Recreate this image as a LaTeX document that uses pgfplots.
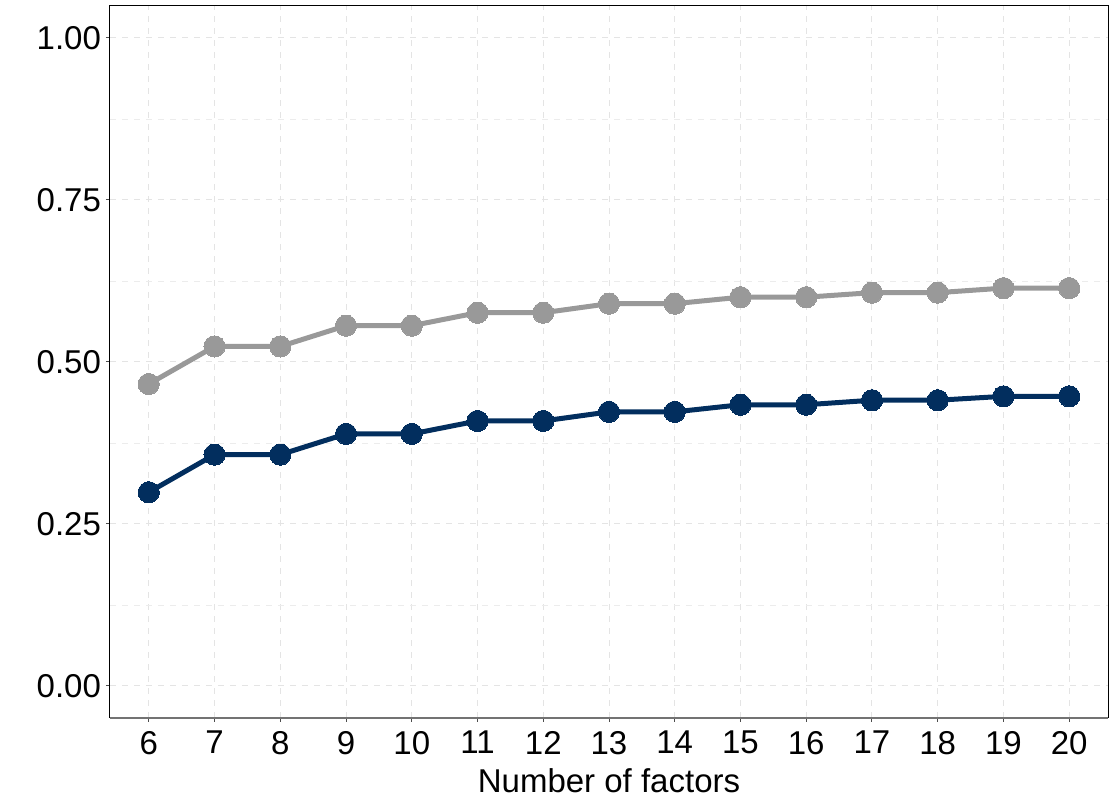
\documentclass[border=0pt]{standalone}
\usepackage{fontspec}
\setmainfont{Liberation Sans}
\usepackage{pgfplots}
\pgfplotsset{compat=1.18}

\definecolor{navy}{RGB}{2,46,94}
\definecolor{lgrey}{RGB}{153,153,153}
\definecolor{gridc}{RGB}{228,228,228}

% pairs repeat: the value only moves at odd factor counts
\pgfplotstableread{
k   upper  lower
6   0.466  0.299
7   0.524  0.357
8   0.524  0.357
9   0.556  0.389
10  0.556  0.389
11  0.576  0.409
12  0.576  0.409
13  0.590  0.423
14  0.590  0.423
15  0.600  0.434
16  0.600  0.434
17  0.607  0.441
18  0.607  0.441
19  0.614  0.447
20  0.614  0.447
}\factors

\begin{document}
\begin{tikzpicture}
\begin{axis}[
    scale only axis,
    width=499pt, height=356pt,
    xmin=5.41, xmax=20.59,
    ymin=-0.0494, ymax=1.0494,
    xtick={6,...,20},
    ytick={0,0.25,0.5,0.75,1},
    minor ytick={0.125,0.375,0.625,0.875},
    yticklabel style={/pgf/number format/fixed, /pgf/number format/fixed zerofill,
        /pgf/number format/precision=2, xshift=1pt},
    /pgf/number format/assume math mode=true,
    font=\fontsize{16.5}{19}\selectfont,
    tick align=outside,
    major tick length=2pt,
    minor tick length=0pt,
    tick style={color=black!70, line width=0.5pt},
    xtick pos=bottom, ytick pos=left,
    grid=both,
    major grid style={gridc, dashed, line width=0.5pt},
    minor grid style={gridc!70, dashed, line width=0.4pt},
    axis line style={black, line width=0.5pt},
    xlabel={Number of factors},
    xlabel style={yshift=0pt},
    xticklabel style={yshift=-1pt},
]
\addplot[lgrey, line width=2.5pt, mark=*, mark size=5.3pt,
         mark options={fill=lgrey, draw=lgrey, line width=0pt}]
    table[x=k, y=upper] {\factors};
\addplot[navy, line width=2.5pt, mark=*, mark size=5.3pt,
         mark options={fill=navy, draw=navy, line width=0pt}]
    table[x=k, y=lower] {\factors};
\end{axis}
\draw[black!55, line width=0.6pt] (current axis.south west) -- (current axis.south east);
\pgfresetboundingbox
\useasboundingbox ([xshift=-55pt,yshift=-39pt]current axis.south west)
    rectangle ([xshift=3.5pt,yshift=3pt]current axis.north east);
\end{tikzpicture}
\end{document}
